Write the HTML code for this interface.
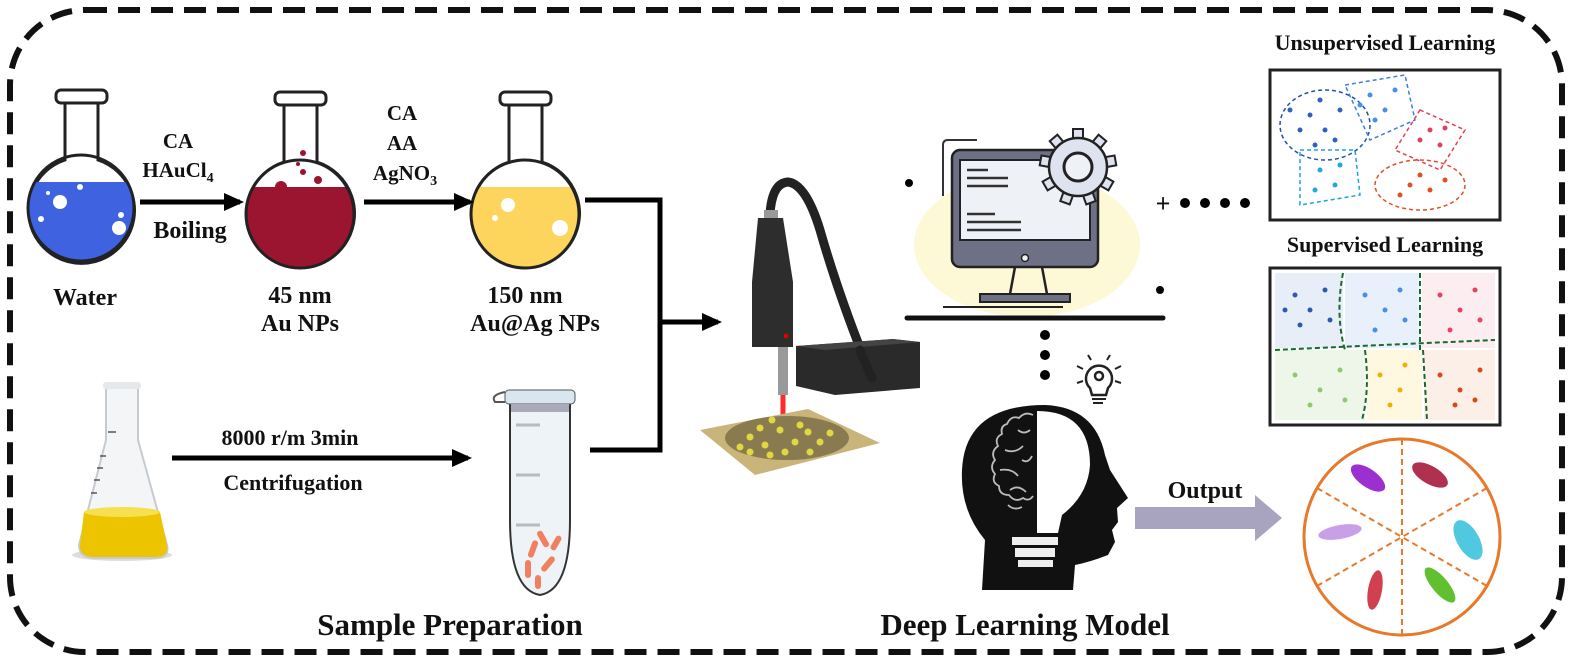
<!DOCTYPE html>
<html><head><meta charset="utf-8"><style>
html,body{margin:0;padding:0;background:#fff;}
svg{display:block;}
text{font-family:"Liberation Serif",serif;font-weight:bold;fill:#111;}
</style></head><body>
<svg width="1574" height="662" viewBox="0 0 1574 662" xmlns="http://www.w3.org/2000/svg">
<defs>
<marker id="ah" markerWidth="20" markerHeight="18" refX="16" refY="9" orient="auto" markerUnits="userSpaceOnUse"><path d="M0,0 L20,9 L0,18 Z" fill="#000"/></marker>
<clipPath id="c1"><circle cx="81" cy="208" r="52"/></clipPath>
<clipPath id="c2"><circle cx="300" cy="214" r="53"/></clipPath>
<clipPath id="c3"><circle cx="525" cy="214" r="53"/></clipPath>
</defs>
<rect x="10" y="10" width="1552" height="642" rx="75" fill="none" stroke="#111" stroke-width="6" stroke-dasharray="22 11"/>

<!-- Flask 1 -->
<g stroke="#222" stroke-width="3">
<path d="M65,103 L65,160 A53,53 0 1 0 98,160 L98,103 Z" fill="#fff"/>
<rect x="56" y="90" width="51" height="13" rx="5" fill="#fff"/>
</g>
<rect x="20" y="182" width="130" height="90" fill="#3f63e0" clip-path="url(#c1)"/>
<circle cx="60" cy="202" r="7" fill="#fff"/><circle cx="119" cy="228" r="7" fill="#fff"/><circle cx="80" cy="187" r="3" fill="#fff"/><circle cx="121" cy="215" r="3" fill="#fff"/><circle cx="41" cy="219" r="3" fill="#fff"/><circle cx="48" cy="193" r="2" fill="#fff"/>
<circle cx="81" cy="208" r="53" fill="none" stroke="#222" stroke-width="3"/>

<!-- Flask 2 -->
<g stroke="#222" stroke-width="3">
<path d="M284,105 L284,162 A54,54 0 1 0 317,162 L317,105 Z" fill="#fff"/>
<rect x="275" y="92" width="51" height="13" rx="5" fill="#fff"/>
</g>
<rect x="240" y="187" width="130" height="90" fill="#9b1430" clip-path="url(#c2)"/>
<circle cx="281" cy="187" r="6" fill="#9b1430"/>
<circle cx="300" cy="214" r="54" fill="none" stroke="#222" stroke-width="3"/>
<circle cx="303" cy="153" r="3" fill="#9b1430"/><circle cx="318" cy="180" r="4" fill="#9b1430"/><circle cx="298" cy="164" r="2" fill="#9b1430"/><circle cx="303" cy="172" r="3" fill="#9b1430"/>

<!-- Flask 3 -->
<g stroke="#222" stroke-width="3">
<path d="M509,105 L509,162 A54,54 0 1 0 542,162 L542,105 Z" fill="#fff"/>
<rect x="500" y="92" width="51" height="13" rx="5" fill="#fff"/>
</g>
<rect x="465" y="187" width="130" height="90" fill="#fdd55d" clip-path="url(#c3)"/>
<circle cx="525" cy="214" r="54" fill="none" stroke="#222" stroke-width="3"/>
<circle cx="508" cy="205" r="7" fill="#fff"/><circle cx="560" cy="228" r="8" fill="#fff"/><circle cx="495" cy="218" r="3" fill="#fff"/>

<!-- arrows -->
<g stroke="#000" stroke-width="5" fill="none">
<line x1="140" y1="202" x2="240" y2="202" marker-end="url(#ah)"/>
<line x1="364" y1="202" x2="470" y2="202" marker-end="url(#ah)"/>
<polyline points="585,200 660,200 660,450 590,450"/>
<line x1="660" y1="322" x2="718" y2="322" marker-end="url(#ah)"/>
<line x1="172" y1="458" x2="468" y2="458" marker-end="url(#ah)"/>
</g>
<text x="178" y="148" font-size="21" text-anchor="middle">CA</text>
<text x="178" y="177" font-size="21" text-anchor="middle">HAuCl<tspan font-size="14" dy="5">4</tspan></text>
<text x="190" y="238" font-size="24" text-anchor="middle">Boiling</text>
<text x="85" y="305" font-size="24" text-anchor="middle">Water</text>
<text x="300" y="303" font-size="24" text-anchor="middle">45 nm</text>
<text x="300" y="331" font-size="24" text-anchor="middle">Au NPs</text>
<text x="402" y="120" font-size="21" text-anchor="middle">CA</text>
<text x="402" y="150" font-size="21" text-anchor="middle">AA</text>
<text x="405" y="180" font-size="21" text-anchor="middle">AgNO<tspan font-size="14" dy="5">3</tspan></text>
<text x="525" y="303" font-size="24" text-anchor="middle">150 nm</text>
<text x="535" y="331" font-size="24" text-anchor="middle">Au@Ag NPs</text>
<text x="290" y="445" font-size="22" text-anchor="middle">8000 r/m 3min</text>
<text x="293" y="490" font-size="22" text-anchor="middle">Centrifugation</text>

<!-- Erlenmeyer -->
<ellipse cx="122" cy="555" rx="50" ry="6" fill="#ddd"/>
<path d="M106,385 L106,440 L79,545 Q79,558 95,558 L155,558 Q170,558 167,545 L138,440 L138,385 Z" fill="#f3f5f6" stroke="#c5cbd0" stroke-width="2"/>
<path d="M84,512 L160,512 L167,545 Q169,557 155,557 L95,557 Q79,557 80,545 Z" fill="#ecc400"/>
<ellipse cx="122" cy="512" rx="38" ry="5" fill="#f6e050"/>
<rect x="103" y="382" width="38" height="7" rx="3" fill="#e6e9ec"/>
<g stroke="#555" stroke-width="1.5"><line x1="108" y1="432" x2="116" y2="432"/><line x1="100" y1="456" x2="106" y2="456"/><line x1="97" y1="468" x2="103" y2="468"/><line x1="94" y1="480" x2="100" y2="480"/><line x1="91" y1="493" x2="97" y2="493"/></g>

<!-- tube -->
<path d="M510,400 L570,400 L570,520 Q570,590 540,595 Q510,590 510,520 Z" fill="#eef3f8" stroke="#333" stroke-width="2"/>
<rect x="505" y="390" width="70" height="14" rx="4" fill="#d8e6ef" stroke="#555"/>
<rect x="511" y="404" width="58" height="8" fill="#aab"/>
<path d="M505,392 Q490,395 495,402 L505,402" fill="none" stroke="#555" stroke-width="2"/>
<g fill="#f08060"><rect x="530" y="540" width="6" height="18" rx="3" transform="rotate(20 533 549)"/><rect x="540" y="530" width="6" height="18" rx="3" transform="rotate(-30 543 539)"/><rect x="525" y="560" width="6" height="18" rx="3"/><rect x="545" y="555" width="6" height="18" rx="3" transform="rotate(40 548 564)"/><rect x="535" y="575" width="6" height="14" rx="3"/><rect x="553" y="535" width="6" height="16" rx="3" transform="rotate(30 556 543)"/></g>
<g stroke="#bbb" stroke-width="3"><line x1="516" y1="425" x2="540" y2="425"/><line x1="516" y1="475" x2="540" y2="475"/><line x1="516" y1="525" x2="540" y2="525"/></g>

<!-- Raman probe -->
<path d="M770,214 Q772,183 788,182 Q806,184 820,230 Q840,300 872,378" fill="none" stroke="#222" stroke-width="9" stroke-linecap="round"/>
<rect x="764" y="210" width="14" height="9" fill="#999"/>
<path d="M758,218 L783,218 L793,282 L793,347 L752,347 L752,282 Z" fill="#2d2d2d"/>
<circle cx="786" cy="336" r="2.5" fill="#d00"/>
<rect x="778" y="347" width="10" height="48" fill="#999"/>
<path d="M796,346 L893,339 L920,342 L920,388 L835,395 L796,386 Z" fill="#2a2a2a"/>
<path d="M796,346 L893,339 L920,342 L825,350 Z" fill="#444"/>
<path d="M860,350 Q868,370 872,378" fill="none" stroke="#222" stroke-width="9" stroke-linecap="round"/>
<line x1="783" y1="395" x2="783" y2="418" stroke="#ff2a2a" stroke-width="5"/>
<path d="M700,430 L808,409 L880,443 L755,475 Z" fill="#c9b47a"/>
<ellipse cx="787" cy="438" rx="62" ry="22" fill="#8a7a50"/>
<g fill="#e0d840"><circle cx="750" cy="437" r="3.5"/><circle cx="765" cy="445" r="3.5"/><circle cx="780" cy="430" r="3.5"/><circle cx="795" cy="442" r="3.5"/><circle cx="760" cy="428" r="3.5"/><circle cx="785" cy="452" r="3.5"/><circle cx="740" cy="447" r="3.5"/><circle cx="808" cy="432" r="3.5"/><circle cx="820" cy="442" r="3.5"/><circle cx="800" cy="425" r="3.5"/><circle cx="772" cy="420" r="3.5"/><circle cx="770" cy="455" r="3.5"/><circle cx="810" cy="452" r="3.5"/><circle cx="750" cy="452" r="3.5"/><circle cx="830" cy="433" r="3.5"/></g>

<!-- monitor -->
<ellipse cx="1027" cy="245" rx="113" ry="72" fill="#fdf8d5"/>
<path d="M943,196 L943,145 Q943,140 948,140 L977,140" fill="none" stroke="#333" stroke-width="2"/>
<rect x="952" y="150" width="146" height="117" rx="8" fill="#6e7185" stroke="#222" stroke-width="2.5"/>
<rect x="960" y="160" width="130" height="80" fill="#eef1f5" stroke="#222" stroke-width="2"/>
<g stroke="#333" stroke-width="2.5"><line x1="967" y1="170" x2="988" y2="170"/><line x1="967" y1="178" x2="1008" y2="178"/><line x1="967" y1="186" x2="1008" y2="186"/><line x1="967" y1="214" x2="995" y2="214"/><line x1="967" y1="222" x2="1021" y2="222"/><line x1="967" y1="230" x2="1021" y2="230"/></g>
<circle cx="1025" cy="258" r="3.5" fill="#eee" stroke="#222" stroke-width="1.5"/>
<path d="M1015,267 L1010,294 M1042,267 L1047,294" stroke="#222" stroke-width="2.5"/>
<rect x="980" y="294" width="90" height="8" fill="#6e7185" stroke="#222" stroke-width="2"/>
<line x1="943" y1="307" x2="1063" y2="307" stroke="#222" stroke-width="2"/>
<line x1="907" y1="318" x2="1163" y2="318" stroke="#111" stroke-width="5" stroke-linecap="round"/>
<g transform="translate(1078,167)">
<g fill="#dfe3ef" stroke="#222" stroke-width="2">
<rect x="-5" y="-38" width="10" height="12"/><rect x="-5" y="-38" width="10" height="12" transform="rotate(40)"/><rect x="-5" y="-38" width="10" height="12" transform="rotate(80)"/><rect x="-5" y="-38" width="10" height="12" transform="rotate(120)"/><rect x="-5" y="-38" width="10" height="12" transform="rotate(160)"/><rect x="-5" y="-38" width="10" height="12" transform="rotate(200)"/><rect x="-5" y="-38" width="10" height="12" transform="rotate(240)"/><rect x="-5" y="-38" width="10" height="12" transform="rotate(280)"/><rect x="-5" y="-38" width="10" height="12" transform="rotate(320)"/>
</g>
<circle r="29" fill="#dfe3ef" stroke="#222" stroke-width="2.5"/>
<circle r="14" fill="#eef1f5" stroke="#222" stroke-width="3"/>
</g>
<circle cx="909" cy="183" r="4"/><circle cx="1160" cy="290" r="4"/>
<circle cx="1045" cy="335" r="5"/><circle cx="1045" cy="355" r="5"/><circle cx="1045" cy="375" r="5"/>
<text x="1163" y="212" font-size="26" text-anchor="middle">+</text>
<circle cx="1185" cy="203" r="5"/><circle cx="1205" cy="203" r="5"/><circle cx="1225" cy="203" r="5"/><circle cx="1245" cy="203" r="5"/>
<path d="M1090,388 A13,13 0 1 1 1108,388 L1106,395 L1092,395 Z" fill="none" stroke="#222" stroke-width="2.5"/>
<circle cx="1099" cy="376" r="4" fill="none" stroke="#222" stroke-width="2.5"/>
<path d="M1092,399 h14 M1093,403 h10" stroke="#222" stroke-width="2"/>
<path d="M1088,355 l3,5 M1110,355 l-3,5 M1077,366 l6,3 M1121,366 l-6,3 M1077,383 l6,-2 M1121,383 l-6,-2" stroke="#222" stroke-width="2"/>

<!-- head -->
<path d="M982,590 L985,540 Q960,510 962,470 Q965,405 1045,405 Q1095,407 1105,455 L1110,470 L1128,498 L1117,508 L1118,522 L1112,530 L1115,542 L1108,555 Q1090,562 1075,565 L1073,590 Z" fill="#111"/>
<path d="M1037,411 Q1090,411 1090,465 Q1088,495 1062,515 L1058,533 L1037,533 Z" fill="#fff"/>
<rect x="1012" y="537" width="46" height="8" fill="#eee"/><rect x="1015" y="548" width="40" height="9" fill="#eee"/><rect x="1018" y="560" width="35" height="7" fill="#eee"/>
<g fill="none" stroke="#bbb" stroke-width="1.8">
<path d="M1033,415 q-8,-4 -14,3 q-8,-3 -12,6 q-7,2 -5,10 q-8,4 -4,12 q-8,6 -3,14 q-6,7 0,14 q-4,8 4,12 q0,9 10,9 q6,8 14,3 q6,4 10,-2"/>
<path d="M1018,430 q6,5 12,0 M1005,450 q10,4 18,-4 M1000,470 q12,-2 18,6 M1010,490 q8,-6 16,2 M1008,505 q6,6 14,2 M1022,460 q6,4 10,-4"/>
</g>

<!-- output -->
<path d="M1135,507 L1255,507 L1255,495 L1282,518 L1255,541 L1255,529 L1135,529 Z" fill="#a8a4c0"/>
<text x="1205" y="498" font-size="24" text-anchor="middle">Output</text>
<circle cx="1402" cy="537" r="98" fill="#fff" stroke="#e8782a" stroke-width="3"/>
<g stroke="#e8782a" stroke-width="2" stroke-dasharray="6 4"><line x1="1402" y1="439" x2="1402" y2="635"/><line x1="1317" y1="488" x2="1487" y2="586"/><line x1="1317" y1="586" x2="1487" y2="488"/></g>
<ellipse cx="1368" cy="478" rx="20" ry="9" fill="#9b2fd0" transform="rotate(35 1368 478)"/>
<ellipse cx="1430" cy="475" rx="20" ry="9" fill="#b03050" transform="rotate(30 1430 475)"/>
<ellipse cx="1340" cy="532" rx="22" ry="7" fill="#c9a0e8" transform="rotate(-10 1340 532)"/>
<ellipse cx="1468" cy="540" rx="11" ry="22" fill="#50c8e0" transform="rotate(-30 1468 540)"/>
<ellipse cx="1375" cy="590" rx="7" ry="20" fill="#d04050" transform="rotate(10 1375 590)"/>
<ellipse cx="1440" cy="585" rx="8" ry="22" fill="#60c030" transform="rotate(-40 1440 585)"/>

<!-- learning boxes -->
<text x="1385" y="50" font-size="22" text-anchor="middle">Unsupervised Learning</text>
<rect x="1270" y="70" width="230" height="150" fill="#fff" stroke="#222" stroke-width="3"/>
<g fill="none" stroke-dasharray="4 3" stroke-width="1.5">
<ellipse cx="1325" cy="125" rx="45" ry="35" stroke="#2050b0"/>
<path d="M1345,85 L1405,75 L1415,120 L1370,140 Z" stroke="#3a80e0"/>
<path d="M1420,110 L1465,130 L1440,170 L1395,150 Z" stroke="#e04050"/>
<path d="M1300,150 L1355,150 L1360,195 L1300,205 Z" stroke="#20a0e0"/>
<ellipse cx="1420" cy="185" rx="45" ry="25" stroke="#e05020"/>
</g>
<g fill="#3060c0"><circle cx="1310" cy="115" r="2.5"/><circle cx="1325" cy="130" r="2.5"/><circle cx="1300" cy="130" r="2.5"/><circle cx="1340" cy="110" r="2.5"/><circle cx="1320" cy="100" r="2.5"/><circle cx="1335" cy="140" r="2.5"/><circle cx="1290" cy="110" r="2.5"/><circle cx="1315" cy="145" r="2.5"/></g>
<g fill="#4a90e8"><circle cx="1370" cy="95" r="2.5"/><circle cx="1385" cy="110" r="2.5"/><circle cx="1395" cy="90" r="2.5"/><circle cx="1375" cy="120" r="2.5"/><circle cx="1360" cy="105" r="2.5"/></g>
<g fill="#e04060"><circle cx="1430" cy="130" r="2.5"/><circle cx="1440" cy="145" r="2.5"/><circle cx="1420" cy="140" r="2.5"/><circle cx="1445" cy="128" r="2.5"/></g>
<g fill="#20a8e0"><circle cx="1320" cy="170" r="2.5"/><circle cx="1335" cy="185" r="2.5"/><circle cx="1315" cy="190" r="2.5"/><circle cx="1340" cy="165" r="2.5"/></g>
<g fill="#e05020"><circle cx="1410" cy="185" r="2.5"/><circle cx="1430" cy="190" r="2.5"/><circle cx="1445" cy="180" r="2.5"/><circle cx="1400" cy="195" r="2.5"/><circle cx="1420" cy="175" r="2.5"/></g>
<text x="1385" y="252" font-size="22" text-anchor="middle">Supervised Learning</text>
<rect x="1270" y="268" width="230" height="157" fill="#fff" stroke="#222" stroke-width="3"/>
<rect x="1275" y="273" width="68" height="75" fill="#e8eef8"/><rect x="1345" y="273" width="75" height="75" fill="#e8f0fc"/><rect x="1422" y="273" width="73" height="75" fill="#fceef0"/>
<rect x="1275" y="350" width="90" height="70" fill="#eef6ea"/><rect x="1367" y="350" width="55" height="70" fill="#fff8e0"/><rect x="1424" y="350" width="71" height="70" fill="#fbefe8"/>
<g fill="#2f58b0"><circle cx="1295" cy="295" r="2.5"/><circle cx="1310" cy="310" r="2.5"/><circle cx="1325" cy="290" r="2.5"/><circle cx="1300" cy="325" r="2.5"/><circle cx="1330" cy="320" r="2.5"/><circle cx="1285" cy="310" r="2.5"/></g>
<g fill="#4a8ee8"><circle cx="1365" cy="295" r="2.5"/><circle cx="1385" cy="310" r="2.5"/><circle cx="1400" cy="290" r="2.5"/><circle cx="1375" cy="330" r="2.5"/><circle cx="1405" cy="320" r="2.5"/></g>
<g fill="#e84060"><circle cx="1440" cy="295" r="2.5"/><circle cx="1460" cy="310" r="2.5"/><circle cx="1475" cy="290" r="2.5"/><circle cx="1450" cy="330" r="2.5"/><circle cx="1480" cy="320" r="2.5"/></g>
<g fill="#90c870"><circle cx="1295" cy="375" r="2.5"/><circle cx="1320" cy="390" r="2.5"/><circle cx="1340" cy="370" r="2.5"/><circle cx="1310" cy="405" r="2.5"/><circle cx="1345" cy="400" r="2.5"/></g>
<g fill="#f0b000"><circle cx="1380" cy="375" r="2.5"/><circle cx="1400" cy="390" r="2.5"/><circle cx="1390" cy="405" r="2.5"/><circle cx="1405" cy="365" r="2.5"/></g>
<g fill="#d84818"><circle cx="1440" cy="375" r="2.5"/><circle cx="1460" cy="390" r="2.5"/><circle cx="1480" cy="370" r="2.5"/><circle cx="1455" cy="405" r="2.5"/><circle cx="1475" cy="400" r="2.5"/></g>
<g fill="none" stroke="#1a6a30" stroke-width="2" stroke-dasharray="5 3"><path d="M1275,350 Q1380,345 1495,340"/><path d="M1343,273 Q1335,315 1345,350"/><path d="M1420,273 L1420,350"/><path d="M1365,350 Q1370,390 1362,420"/><path d="M1423,350 L1427,420"/></g>

<text x="450" y="635" font-size="31" text-anchor="middle">Sample Preparation</text>
<text x="1025" y="635" font-size="31" text-anchor="middle">Deep Learning Model</text>
</svg>
</body></html>
